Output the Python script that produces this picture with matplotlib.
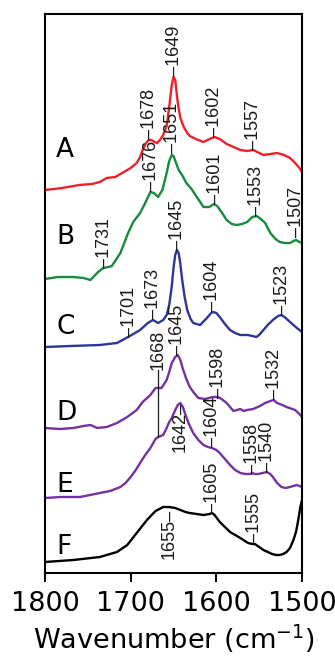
import numpy as np
import matplotlib
matplotlib.use("Agg")
from matplotlib import pyplot as plt

# stacked FTIR difference spectra, heights in arbitrary units (offsets included)
wn_A = [1800, 1780, 1760, 1745, 1736, 1728, 1718, 1710, 1700, 1693, 1689, 1686, 1682, 1679, 1676, 1672,
        1669, 1665, 1662, 1658, 1655, 1652, 1650, 1648, 1645, 1642, 1638, 1634, 1631, 1624, 1615, 1608,
        1602, 1596, 1588, 1580, 1572, 1564, 1557, 1550, 1545, 1537, 1529, 1521, 1514, 1508, 1503, 1500]
ab_A = [383, 385, 388, 389, 391, 395, 396, 400, 405, 410, 416, 423, 430, 433, 433, 431,
        430, 434, 438, 447, 466, 488, 496, 493, 470, 455, 446, 440, 437, 434, 431, 434,
        436, 434, 429, 426, 423, 422, 423, 420, 418, 419, 420, 418, 415, 410, 405, 401]

wn_B = [1800, 1785, 1767, 1755, 1747, 1738, 1732, 1726, 1722, 1712, 1703, 1697, 1689, 1683, 1677, 1673,
        1668, 1663, 1658, 1655, 1652, 1650, 1647, 1644, 1640, 1635, 1629, 1622, 1615, 1608, 1603, 1599,
        1594, 1588, 1582, 1576, 1570, 1564, 1558, 1553, 1548, 1543, 1537, 1531, 1526, 1520, 1514, 1510,
        1507, 1503, 1500]
ab_B = [294, 296, 296, 295, 293, 301, 305, 306, 307, 320, 340, 351, 360, 370, 381, 380,
        376, 383, 400, 412, 418, 417, 410, 403, 398, 390, 384, 375, 366, 366, 369, 367,
        361, 353, 349, 348, 349, 351, 356, 357, 354, 350, 340, 334, 331, 330, 330, 332,
        333, 331, 330]

wn_C = [1800, 1770, 1736, 1716, 1703, 1695, 1689, 1680, 1674, 1668, 1662, 1658, 1655, 1652, 1650, 1648,
        1646, 1644, 1642, 1640, 1637, 1634, 1630, 1627, 1619, 1611, 1606, 1604, 1600, 1596, 1590, 1584,
        1578, 1572, 1563, 1553, 1549, 1545, 1540, 1534, 1528, 1524, 1519, 1514, 1506, 1500]
ab_C = [226, 227, 228, 230, 236, 240, 243, 250, 253, 250, 253, 258, 268, 287, 305, 318,
        323, 320, 309, 294, 276, 263, 254, 250, 248, 255, 260, 261, 260, 256, 249, 243,
        240, 238, 238, 236, 239, 243, 248, 253, 257, 258, 255, 251, 245, 241]

wn_D = [1800, 1782, 1767, 1755, 1747, 1739, 1728, 1716, 1704, 1693, 1686, 1677, 1671, 1668, 1664, 1658,
        1655, 1652, 1648, 1645, 1642, 1639, 1635, 1631, 1626, 1621, 1613, 1604, 1598, 1594, 1588, 1580,
        1576, 1572, 1568, 1564, 1557, 1549, 1543, 1537, 1533, 1529, 1523, 1518, 1508, 1503, 1500]
ab_D = [145, 144, 145, 147, 148, 145, 146, 150, 156, 163, 171, 178, 185, 185, 185, 193,
        201, 210, 216, 218, 213, 204, 194, 186, 180, 175, 174, 176, 176, 174, 170, 162,
        163, 164, 162, 163, 164, 167, 170, 172, 173, 170, 168, 166, 163, 159, 156]

wn_E = [1800, 1782, 1759, 1736, 1724, 1712, 1706, 1700, 1694, 1689, 1683, 1677, 1671, 1668, 1662, 1658,
        1655, 1652, 1648, 1645, 1642, 1639, 1636, 1632, 1627, 1621, 1615, 1610, 1605, 1600, 1596, 1590,
        1584, 1578, 1572, 1566, 1561, 1558, 1555, 1551, 1546, 1541, 1537, 1534, 1529, 1524, 1519, 1514,
        1510, 1506, 1503, 1500]
ab_E = [75, 76, 76, 80, 82, 86, 90, 96, 103, 110, 118, 125, 134, 136, 138, 145,
        151, 155, 163, 168, 170, 166, 158, 149, 140, 133, 128, 126, 125, 123, 120, 114,
        108, 103, 100, 99, 99, 100, 99, 99, 100, 101, 99, 96, 90, 86, 85, 86,
        87, 88, 87, 86]

wn_F = [1800, 1767, 1736, 1716, 1704, 1693, 1681, 1671, 1662, 1655, 1648, 1642, 1636, 1631, 1623, 1615,
        1608, 1605, 1602, 1596, 1590, 1584, 1578, 1572, 1563, 1558, 1555, 1550, 1545, 1540, 1535, 1530,
        1526, 1522, 1518, 1514, 1510, 1507, 1505, 1503, 1502, 1500]
ab_F = [11, 13, 16, 21, 28, 40, 53, 62, 66, 66, 65, 63, 61, 60, 59, 58,
        59, 60, 58, 51, 46, 41, 38, 35, 30, 29, 29, 26, 23, 21, 19, 18,
        18, 19, 21, 25, 33, 41, 50, 60, 66, 73]

names = ['A', 'B', 'C', 'D', 'E', 'F']
colors = ['#ee2028', '#178a3e', '#2e3596', '#7432a0', '#7432a0', '#000000']
letter_y = [423, 336, 246, 160, 88, 26]

# peak labels: wavenumber, anchor height, text placed above (1) or below (-1)
peak_wn = [1678, 1649, 1602, 1557,
           1731, 1676, 1651, 1601, 1553, 1507,
           1701, 1673, 1645, 1604, 1523,
           1645, 1598, 1532,
           1642, 1604, 1558, 1540,
           1655, 1605, 1555]
peak_y = [434, 497, 436, 423,
          305, 382, 420, 369, 357, 336,
          236, 254, 323, 262, 258,
          218, 175, 174,
          171, 126, 99, 101,
          64, 60, 30]
peak_side = [1, 1, 1, 1,
             1, 1, 1, 1, 1, 1,
             1, 1, 1, 1, 1,
             1, 1, 1,
             -1, 1, 1, 1,
             -1, 1, 1]
# 1668 band marked across D and E with one line
link_wn = 1668
link_y = [203, 136]

spectra = [(wn_A, ab_A), (wn_B, ab_B), (wn_C, ab_C), (wn_D, ab_D), (wn_E, ab_E), (wn_F, ab_F)]

fig = plt.figure(figsize=(3.35, 6.61), dpi=100)
ax = fig.add_axes([45 / 335, 1 - 573 / 661, 257 / 335, 559 / 661])

for (w, a), c in zip(spectra, colors):
    ax.plot(w, a, color=c, lw=1.7, solid_joinstyle='round')

for n, y in zip(names, letter_y):
    ax.text(1787, y, n, fontsize=19, family='DejaVu Sans', ha='left', va='center')

lab_font = ['Liberation Sans Narrow', 'Liberation Sans']
for w, y, s in zip(peak_wn, peak_y, peak_side):
    if s > 0:
        ax.text(w, y, '\u2013' + str(w), rotation=90, ha='center', va='bottom',
                fontsize=13, family=lab_font, color='#1a1a1a')
    else:
        ax.text(w, y, str(w) + '\u2013', rotation=90, ha='center', va='top',
                fontsize=13, family=lab_font, color='#1a1a1a')

ax.plot([link_wn, link_wn], link_y, color='#1a1a1a', lw=0.9)
ax.text(link_wn, link_y[0], str(link_wn), rotation=90, ha='center', va='bottom',
        fontsize=13, family=lab_font, color='#1a1a1a')

ax.set_xlim(1800, 1500)
ax.set_ylim(0, 559)
ax.set_xticks([1800, 1700, 1600, 1500])
ax.set_yticks([])
ax.tick_params(axis='x', direction='out', length=6.5, width=1.4, labelsize=19.5, pad=6.5)
for lab in ax.get_xticklabels():
    lab.set_family('DejaVu Sans')
for sp in ax.spines.values():
    sp.set_linewidth(1.5)
ax.set_xlabel('Wavenumber (cm$^{-1}$)', fontsize=19.5, family='DejaVu Sans', labelpad=4)

fig.savefig('out.png', dpi=100)
